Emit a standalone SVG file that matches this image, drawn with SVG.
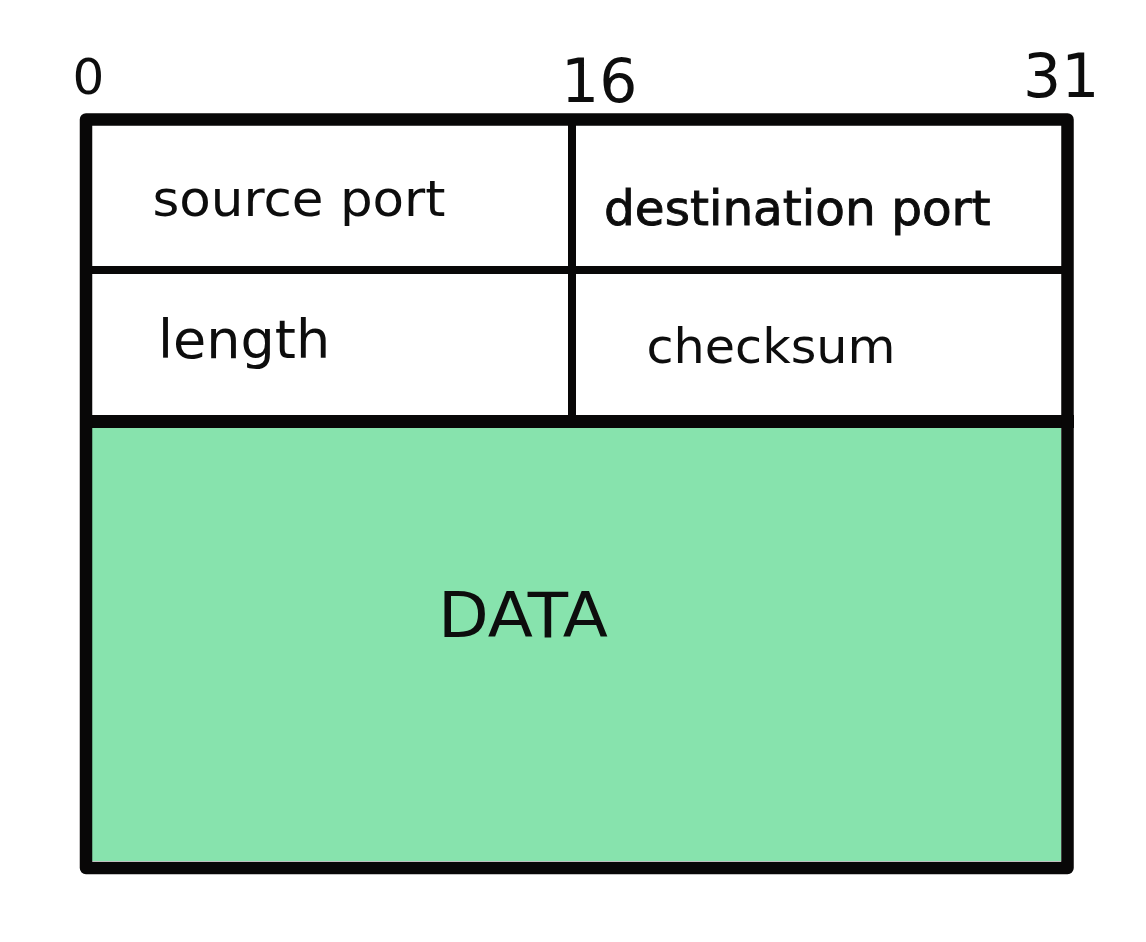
<svg xmlns="http://www.w3.org/2000/svg" width="1146" height="942" viewBox="0 0 1146 942">
  <style>
    .lbl { font-family: "DejaVu Sans", Verdana, sans-serif; fill: #0d0d0d; }
    .line { stroke: #080707; fill: none; stroke-linecap: butt; }
  </style>
  <rect width="1146" height="942" fill="#ffffff"/>
  <g id="bit-labels">
    <text class="lbl" x="72.5" y="94" font-size="50">0</text>
    <text class="lbl" x="561" y="102" font-size="60">16</text>
    <text class="lbl" x="1023" y="97" font-size="60">31</text>
  </g>
  <g id="data">
    <rect x="92" y="427" width="969" height="434" fill="#87e3ad"/>
    <text class="lbl" x="438" y="637" font-size="62" textLength="170" lengthAdjust="spacingAndGlyphs">DATA</text>
  </g>
  <g id="connectors">
    <line class="line" x1="572" y1="124" x2="572" y2="417" stroke-width="8"/>
    <line class="line" x1="90" y1="270" x2="1063" y2="270" stroke-width="8"/>
    <line class="line" x1="80" y1="421.5" x2="1074" y2="421.5" stroke-width="13"/>
    <rect class="line" x="86" y="119.5" width="981.5" height="748.5" stroke-width="12.5" stroke-linejoin="round"/>
  </g>
  <g id="source-port">
    <text class="lbl" x="152.5" y="216" font-size="50" textLength="293" lengthAdjust="spacingAndGlyphs">source port</text>
  </g>
  <g id="destination-port">
    <text class="lbl" x="604" y="225" font-size="48.5" stroke="#0d0d0d" stroke-width="0.9">destination port</text>
  </g>
  <g id="length">
    <text class="lbl" x="158" y="358" font-size="54">length</text>
  </g>
  <g id="checksum">
    <text class="lbl" x="646.5" y="363" font-size="48.5" textLength="249" lengthAdjust="spacingAndGlyphs">checksum</text>
  </g>
</svg>
